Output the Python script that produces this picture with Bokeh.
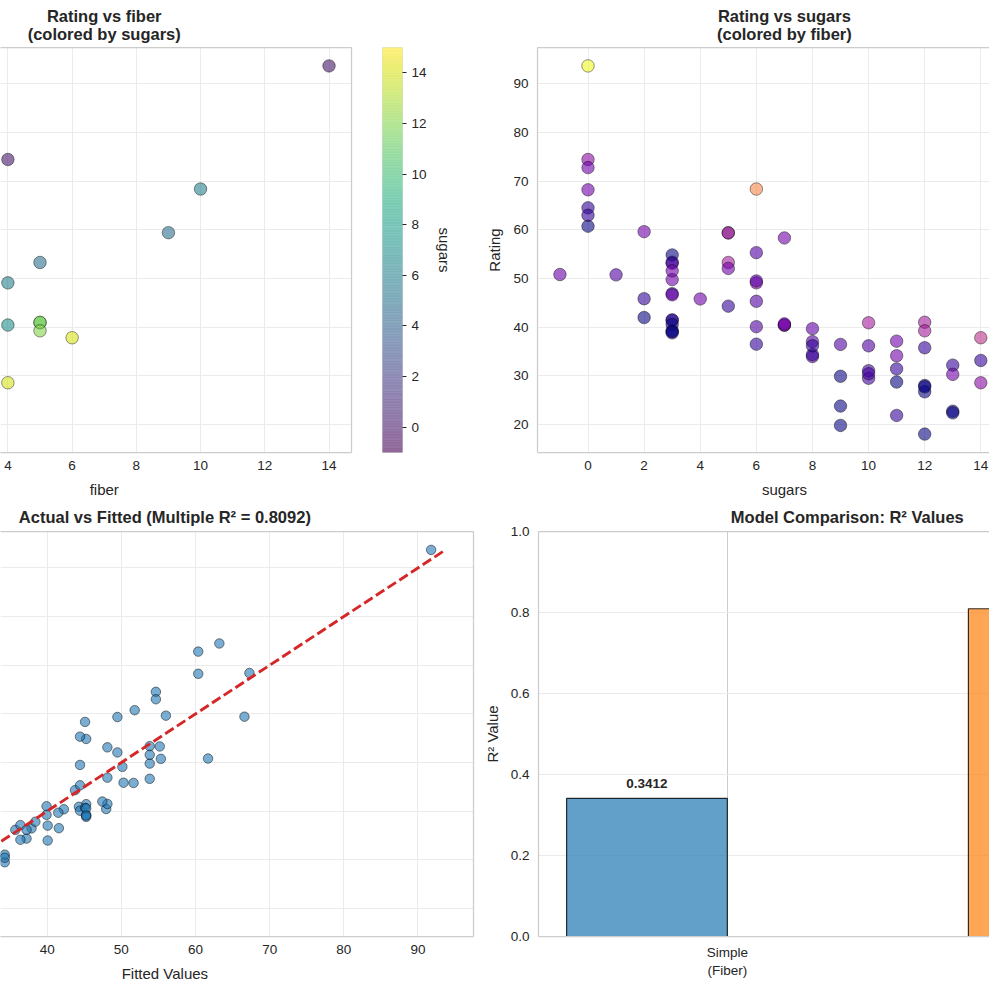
import numpy as np
from bokeh.plotting import figure
from bokeh.layouts import row, column
from bokeh.models import (ColumnDataSource, FixedTicker, LinearAxis, Range1d,
                          NumeralTickFormatter, Title)
from bokeh.palettes import Viridis256, Plasma256
from bokeh.transform import linear_cmap
from bokeh.core.properties import value
from bokeh.embed import file_html
from bokeh.resources import INLINE

# ---------------- data: breakfast cereals ----------------
fiber = [10, 2, 9, 14, 1, 1.5, 1, 2, 4, 5, 0, 2, 0, 2, 0, 0, 1, 1, 0, 4,
         1, 1, 2, 1, 1, 1, 3, 5, 5, 0, 0, 0, 3, 3, 3, 1, 1.5, 0, 1, 2,
         0, 2, 0, 0, 3, 3, 3, 2, 0, 3, 3, 1.5, 6, 1, 0, 1, 2, 2.7, 5, 2.5,
         2, 0, 0, 3, 4, 3, 1, 1, 3, 0, 4, 3, 0, 0, 3, 3, 1]
sugars = [6, 8, 5, 0, 8, 10, 14, 8, 6, 5, 12, 1, 9, 7, 13, 3, 2, 12, 13, 7,
          0, 3, 10, 5, 13, 11, 7, 10, 12, 12, 15, 9, 5, 3, 4, 11, 10, 11, 6, 9,
          3, 6, 12, 3, 11, 11, 13, 6, 9, 7, 2, 10, 14, 3, 0, 0, 6, -1, 12, 8,
          6, 2, 3, 0, 0, 0, 15, 3, 5, 3, 14, 3, 3, 12, 3, 3, 8]
rating = [68.40, 33.98, 59.43, 93.70, 34.38, 29.51, 33.17, 37.04, 49.12, 53.31,
          18.04, 50.76, 19.82, 40.40, 22.74, 41.45, 45.86, 35.78, 22.40, 40.45,
          64.53, 46.90, 36.18, 44.33, 32.21, 31.44, 58.35, 40.92, 41.02, 28.03,
          35.25, 23.80, 52.08, 53.37, 45.81, 21.87, 31.07, 28.74, 36.52, 36.47,
          39.24, 45.33, 26.73, 54.85, 37.14, 34.14, 30.31, 40.11, 29.92, 40.69,
          59.64, 30.45, 37.84, 41.50, 60.76, 63.01, 49.51, 50.83, 39.26, 39.70,
          55.33, 41.99, 40.56, 68.24, 74.47, 72.80, 31.23, 53.13, 59.36, 38.84,
          28.59, 46.66, 39.11, 27.75, 49.79, 51.59, 36.19]
# fitted ratings of the two-predictor model (fiber + sugars)
fitted = [67.27, 40.07, 66.60, 91.77, 37.22, 34.28, 24.14, 40.07, 50.14, 55.18,
          25.64, 55.33, 32.18, 42.25, 23.46, 45.26, 50.30, 28.50, 23.46, 47.96,
          54.66, 48.12, 35.71, 43.76, 26.32, 30.68, 45.11, 44.28, 39.92, 25.64,
          19.10, 32.18, 49.47, 53.83, 51.65, 30.68, 34.28, 27.82, 41.58, 37.89,
          45.26, 44.43, 25.64, 45.26, 36.39, 36.39, 32.03, 44.43, 32.18, 45.11,
          56.01, 34.28, 38.41, 48.12, 51.80, 54.66, 44.43, 61.69, 39.92, 41.50,
          44.43, 47.44, 45.26, 60.37, 63.22, 60.37, 21.96, 48.12, 49.47, 45.26,
          32.70, 53.83, 45.26, 25.64, 53.83, 53.83, 37.22]
model_names = ["Simple\n(Fiber)", "Multiple\n(Fiber + Sugars)"]
r2_values = [0.3412, 0.8092]

fiber_ticks = list(range(0, 16, 2))
sugar_ticks = list(range(-2, 18, 2))
rating_ticks = list(range(20, 100, 10))
fitted_ticks = list(range(10, 110, 10))
r2_ticks = [0.0, 0.2, 0.4, 0.6, 0.8, 1.0]

# ---------------- style ----------------
FONT = "Liberation Sans"
INK = "#262626"
SPINE = "#cccccc"
GRID = "#ebebeb"
TITLE_SIZE = "16.5px"
LABEL_SIZE = "15px"
TICK_SIZE = "13.5px"
FRAME_H = 405
BAR_W = 0.4


def padded(lo, hi, frac=0.05):
    pad = (hi - lo) * frac
    return lo - pad, hi + pad


fib_full = padded(min(fiber), max(fiber))
sug_full = padded(min(sugars), max(sugars))
rat_full = padded(min(rating), max(rating))
line_lo, line_hi = min(rating), max(rating)
fit_full = padded(min(min(fitted), line_lo), max(max(fitted), line_hi))
bar_pos = [i - BAR_W / 2 for i in range(len(r2_values))]
bar_full = padded(bar_pos[0] - BAR_W / 2, bar_pos[-1] + BAR_W / 2)

# the part of each panel's x extent that lies on the page
TL_X = Range1d(3.77, fib_full[1])
TR_X = Range1d(sug_full[0], 14.31)
BL_X = Range1d(33.71, fit_full[1])
BR_X = Range1d(bar_full[0], 0.655)


def style_axis(ax, standoff=9):
    ax.axis_line_color = SPINE
    ax.axis_line_width = 1.25
    ax.major_tick_line_color = None
    ax.minor_tick_line_color = None
    ax.major_tick_out = 0
    ax.major_tick_in = 0
    ax.minor_tick_out = 0
    ax.major_label_text_font = FONT
    ax.major_label_text_font_size = TICK_SIZE
    ax.major_label_text_color = INK
    ax.major_label_standoff = standoff
    ax.axis_label_text_font = FONT
    ax.axis_label_text_font_size = LABEL_SIZE
    ax.axis_label_text_font_style = "normal"
    ax.axis_label_text_color = INK
    ax.axis_label_standoff = 7


def make_fig(x_rng, y_rng, frame_w, borders, y_axis=True):
    left, right, top, bottom = borders
    p = figure(x_range=x_rng, y_range=Range1d(*y_rng),
               frame_width=frame_w, frame_height=FRAME_H,
               min_border_left=left, min_border_right=right,
               min_border_top=top, min_border_bottom=bottom,
               y_axis_location="left" if y_axis else None,
               output_backend="svg", toolbar_location=None, tools="")
    p.outline_line_color = None
    p.background_fill_color = "white"
    p.border_fill_color = "white"
    for ax in p.xaxis:
        style_axis(ax, standoff=8)
    for ax in p.yaxis:
        style_axis(ax, standoff=9)
    p.xgrid.grid_line_color = GRID
    p.ygrid.grid_line_color = GRID
    p.xgrid.grid_line_width = 1
    p.ygrid.grid_line_width = 1
    return p


def add_edge(p, side):
    # bare axis used only as a frame spine
    ax = LinearAxis(ticker=FixedTicker(ticks=[]), axis_line_color=SPINE,
                    axis_line_width=1.25, major_tick_line_color=None,
                    minor_tick_line_color=None, major_tick_out=0, minor_tick_out=0,
                    major_label_text_font_size="0px", major_label_standoff=0)
    p.add_layout(ax, side)


def strip(x_rng, frame_w, left, right, height):
    # text band sharing the x scale of the panel below/above it
    s = figure(x_range=x_rng, y_range=Range1d(0, height),
               frame_width=frame_w, frame_height=height,
               min_border_left=left, min_border_right=right,
               min_border_top=0, min_border_bottom=0,
               x_axis_location=None, y_axis_location=None,
               output_backend="svg", toolbar_location=None, tools="")
    s.outline_line_color = None
    s.grid.visible = False
    s.background_fill_color = "white"
    s.border_fill_color = "white"
    return s


def title_strip(x_rng, frame_w, left, right, height, x, text, y):
    s = strip(x_rng, frame_w, left, right, height)
    s.text(x=[x], y=[y], text=[text], text_align="center", text_baseline="bottom",
           text_font=value(FONT), text_font_size=TITLE_SIZE, text_font_style="bold",
           text_color=INK, text_line_height=1.02)
    return s


def label_strip(x_rng, frame_w, left, right, height, x, text, y):
    s = strip(x_rng, frame_w, left, right, height)
    s.text(x=[x], y=[y], text=[text], text_align="center", text_baseline="alphabetic",
           text_font=value(FONT), text_font_size=LABEL_SIZE, text_color=INK)
    return s


def blend(hex_color, alpha):
    r, g, b = (int(hex_color[i:i + 2], 16) for i in (1, 3, 5))
    mix = [round(alpha * c + (1 - alpha) * 255) for c in (r, g, b)]
    return "#%02x%02x%02x" % tuple(mix)


src = ColumnDataSource(dict(fiber=fiber, sugars=sugars, rating=rating, fitted=fitted))

# ---------------- rating vs fiber ----------------
TL_GEOM = (351, 0, 14)
p1 = make_fig(TL_X, rat_full, TL_GEOM[0], (TL_GEOM[1], TL_GEOM[2], 2, 25), y_axis=False)
p1.xaxis.ticker = FixedTicker(ticks=fiber_ticks)
p1.xgrid.ticker = FixedTicker(ticks=fiber_ticks)
p1.ygrid.ticker = FixedTicker(ticks=rating_ticks)
add_edge(p1, "above")
add_edge(p1, "right")
p1.scatter("fiber", "rating", source=src, size=12.5,
           fill_color=linear_cmap("sugars", Viridis256, min(sugars), max(sugars)),
           fill_alpha=0.6, line_color="black", line_alpha=0.6, line_width=0.7)
t1 = title_strip(TL_X, *TL_GEOM, 45, sum(fib_full) / 2,
                 "Rating vs fiber\n(colored by sugars)", 2.3)
l1 = label_strip(TL_X, *TL_GEOM, 23, sum(fib_full) / 2, "fiber", 11)

# ---------------- colour bar for sugars ----------------
pcb = figure(x_range=Range1d(0, 1), y_range=Range1d(min(sugars), max(sugars)),
             frame_width=20, frame_height=FRAME_H,
             min_border_left=17, min_border_right=78, min_border_top=47,
             min_border_bottom=48, x_axis_location=None, y_axis_location="right",
             output_backend="svg", toolbar_location=None, tools="")
pcb.outline_line_color = "#dddddd"
pcb.border_fill_color = "white"
pcb.grid.visible = False
levels = np.linspace(min(sugars), max(sugars), 257)
steps = np.linspace(0, 255, 256).astype(int)
cb_colors = [blend(Viridis256[i], 0.6) for i in steps]
pcb.quad(left=0, right=1, bottom=levels[:-1], top=levels[1:],
         fill_color=cb_colors, line_color=cb_colors, line_width=0.6)
cbax = pcb.yaxis[0]
style_axis(cbax, standoff=5)
cbax.ticker = FixedTicker(ticks=fiber_ticks)
cbax.axis_line_color = None
cbax.major_tick_out = 4
cbax.major_tick_line_color = INK
cbax.major_tick_line_width = 1
cbax.axis_label = "sugars"
cbax.axis_label_standoff = 6

# ---------------- rating vs sugars ----------------
TR_GEOM = (452, 57, 0)
p2 = make_fig(TR_X, rat_full, TR_GEOM[0], (TR_GEOM[1], TR_GEOM[2], 2, 25))
p2.xaxis.ticker = FixedTicker(ticks=sugar_ticks)
p2.xgrid.ticker = FixedTicker(ticks=sugar_ticks)
p2.yaxis.ticker = FixedTicker(ticks=rating_ticks)
p2.ygrid.ticker = FixedTicker(ticks=rating_ticks)
p2.yaxis.axis_label = "Rating"
add_edge(p2, "above")
p2.scatter("sugars", "rating", source=src, size=12.5,
           fill_color=linear_cmap("fiber", Plasma256, min(fiber), max(fiber)),
           fill_alpha=0.6, line_color="black", line_alpha=0.6, line_width=0.7)
t2 = title_strip(TR_X, *TR_GEOM, 45, sum(sug_full) / 2,
                 "Rating vs sugars\n(colored by fiber)", 2.3)
l2 = label_strip(TR_X, *TR_GEOM, 23, sum(sug_full) / 2, "sugars", 11)

# ---------------- actual vs fitted ----------------
BL_GEOM = (473, 0, 7)
p3 = make_fig(BL_X, rat_full, BL_GEOM[0], (BL_GEOM[1], BL_GEOM[2], 2, 25), y_axis=False)
p3.xaxis.ticker = FixedTicker(ticks=fitted_ticks)
p3.xgrid.ticker = FixedTicker(ticks=fitted_ticks)
p3.ygrid.ticker = FixedTicker(ticks=rating_ticks)
add_edge(p3, "above")
add_edge(p3, "right")
p3.scatter("fitted", "rating", source=src, size=9.5, fill_color="#1f77b4",
           fill_alpha=0.6, line_color="black", line_alpha=0.6, line_width=0.8)
p3.line([line_lo, line_hi], [line_lo, line_hi], line_color="#d62728",
        line_width=2.9, line_dash="10 4")
t3 = title_strip(BL_X, *BL_GEOM, 29, sum(fit_full) / 2,
                 f"Actual vs Fitted (Multiple R\u00b2 = {r2_values[1]:.4f})", 3.5)
l3 = label_strip(BL_X, *BL_GEOM, 28, sum(fit_full) / 2, "Fitted Values", 16)

# ---------------- model comparison ----------------
BR_GEOM = (452, 57, 0)
p4 = make_fig(BR_X, (0, 1), BR_GEOM[0], (BR_GEOM[1], BR_GEOM[2], 31, 53))
p4.xaxis.ticker = FixedTicker(ticks=list(range(len(model_names))))
p4.xgrid.ticker = FixedTicker(ticks=list(range(len(model_names))))
p4.xaxis.major_label_overrides = {i: name for i, name in enumerate(model_names)}
p4.yaxis.ticker = FixedTicker(ticks=r2_ticks)
p4.ygrid.ticker = FixedTicker(ticks=r2_ticks)
p4.yaxis.formatter = NumeralTickFormatter(format="0.0")
p4.yaxis.axis_label = "R\u00b2 Value"
p4.xgrid.grid_line_color = SPINE
add_edge(p4, "above")
p4.vbar(x=bar_pos, top=r2_values, width=BAR_W, fill_color=["#1f77b4", "#ff7f0e"],
        fill_alpha=0.7, line_color="black", line_alpha=0.8, line_width=1.2)
# value labels for the bars whose centre is on the page
shown = [i for i, x in enumerate(bar_pos) if BR_X.start <= x <= BR_X.end]
p4.text(x=[bar_pos[i] for i in shown], y=[r2_values[i] + 0.025 for i in shown],
        text=[f"{r2_values[i]:.4f}" for i in shown],
        text_align="center", text_baseline="bottom", text_font=value(FONT),
        text_font_style="bold", text_font_size="13.5px", text_color=INK)
# title centred over the whole axis extent (left-aligned with a measured offset)
br_mid_px = (sum(bar_full) / 2 - BR_X.start) / (BR_X.end - BR_X.start) * BR_GEOM[0]
BR_TITLE_HALF_W = 117
p4.add_layout(Title(text="Model Comparison: R\u00b2 Values", align="left",
                    offset=br_mid_px - BR_TITLE_HALF_W, standoff=11,
                    text_font=FONT, text_font_size=TITLE_SIZE,
                    text_font_style="bold", text_color=INK), "above")

layout = column(
    row(column(t1, p1, l1), pcb, column(t2, p2, l2)),
    row(column(t3, p3, l3), p4),
)

with open("out.html", "w") as f:
    f.write(file_html(layout, INLINE, title="Cereal ratings"))
